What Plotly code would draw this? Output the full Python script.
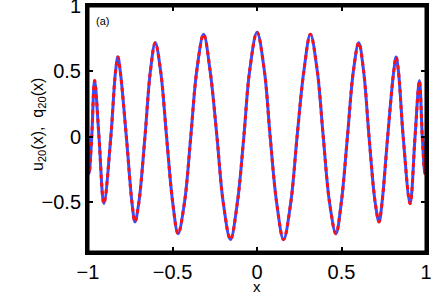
import plotly.graph_objects as go

# x positions of extrema, +/-0.5 crossings and zero crossings
x_pts = [-1.0, -0.993, -0.978, -0.961, -0.935, -0.906, -0.865, -0.837, -0.823, -0.809,
         -0.773, -0.740, -0.722, -0.699, -0.663, -0.631, -0.602, -0.570, -0.535, -0.499,
         -0.467, -0.429, -0.392, -0.357, -0.316, -0.277, -0.237, -0.200, -0.157, -0.116,
         -0.078, -0.044, 0.0,
         0.044, 0.078, 0.116, 0.157, 0.200, 0.237, 0.277, 0.316, 0.357, 0.392,
         0.429, 0.467, 0.499, 0.535, 0.570, 0.602, 0.631, 0.663, 0.699, 0.722,
         0.740, 0.773, 0.809, 0.823, 0.837, 0.865, 0.906, 0.935, 0.961, 0.978,
         0.993, 1.0]
u_vals = [0.0, -0.28, 0.0, 0.43, 0.0, -0.51, 0.0, 0.5, 0.61, 0.5,
          0.0, -0.5, -0.65, -0.5, 0.0, 0.5, 0.72, 0.5, 0.0, -0.5,
          -0.74, -0.5, 0.0, 0.5, 0.785, 0.5, 0.0, -0.5, -0.785, -0.5,
          0.0, 0.5, 0.80,
          0.5, 0.0, -0.5, -0.785, -0.5, 0.0, 0.5, 0.785, 0.5, 0.0,
          -0.5, -0.74, -0.5, 0.0, 0.5, 0.72, 0.5, 0.0, -0.5, -0.65,
          -0.5, 0.0, 0.5, 0.61, 0.5, 0.0, -0.51, 0.0, 0.43, 0.0,
          -0.28, 0.0]
q_vals = list(u_vals)  # the dashed curve coincides with the solid one in the picture
x_ticks = [-1, -0.5, 0, 0.5, 1]
x_tick_text = ["\u22121", "\u22120.5", "0", "0.5", "1"]
y_ticks = [-0.5, 0, 0.5, 1]
y_tick_text = ["\u22120.5", "0", "0.5", "1"]

fig = go.Figure()
fig.add_trace(go.Scatter(x=x_pts, y=u_vals, mode="lines",
                         line=dict(color="#3a4cff", width=3, shape="spline", smoothing=1.0),
                         showlegend=False))
fig.add_trace(go.Scatter(x=x_pts, y=q_vals, mode="lines",
                         line=dict(color="#ff1010", width=3, dash="4px,4px", shape="spline", smoothing=1.0),
                         showlegend=False))

axis_common = dict(showline=True, linecolor="black", linewidth=3, mirror="ticks",
                   ticks="inside", ticklen=5, tickwidth=2, tickcolor="black",
                   showgrid=False, zeroline=False, automargin=False,
                   ticklabeloverflow="allow",
                   tickfont=dict(family="Liberation Sans, Arial", size=20, color="black"))

fig.update_xaxes(range=[-1, 1], tickvals=x_ticks, ticktext=x_tick_text, **axis_common)
fig.update_yaxes(range=[-0.88, 1], tickvals=y_ticks, ticktext=y_tick_text, **axis_common)

# box frame around the plotting area
fig.add_shape(type="rect", xref="paper", yref="paper", x0=0, y0=0, x1=1, y1=1,
              line=dict(color="black", width=3), layer="above")

fig.add_annotation(text="(a)", xref="paper", yref="paper", x=0.044, y=0.94,
                   xanchor="center", yanchor="middle", showarrow=False,
                   font=dict(family="Liberation Sans, Arial", size=11, color="black"))
fig.add_annotation(text="x", xref="paper", yref="paper", x=0.5, y=-0.142,
                   xanchor="center", yanchor="middle", showarrow=False,
                   font=dict(family="Liberation Sans, Arial", size=15, color="black"))
fig.add_annotation(text="u<sub>20</sub>(x),  q<sub>20</sub>(x)", xref="paper", yref="paper",
                   x=-0.148, y=0.52, xanchor="center", yanchor="middle", textangle=-90,
                   showarrow=False,
                   font=dict(family="Liberation Sans, Arial", size=16, color="black"))

fig.update_layout(width=436, height=293, margin=dict(l=88, r=10, t=6, b=41),
                  plot_bgcolor="white", paper_bgcolor="white")
fig.write_html("out.html", config={"displayModeBar": False},
               post_script="document.body.style.margin='0';document.body.style.overflow='hidden';")
